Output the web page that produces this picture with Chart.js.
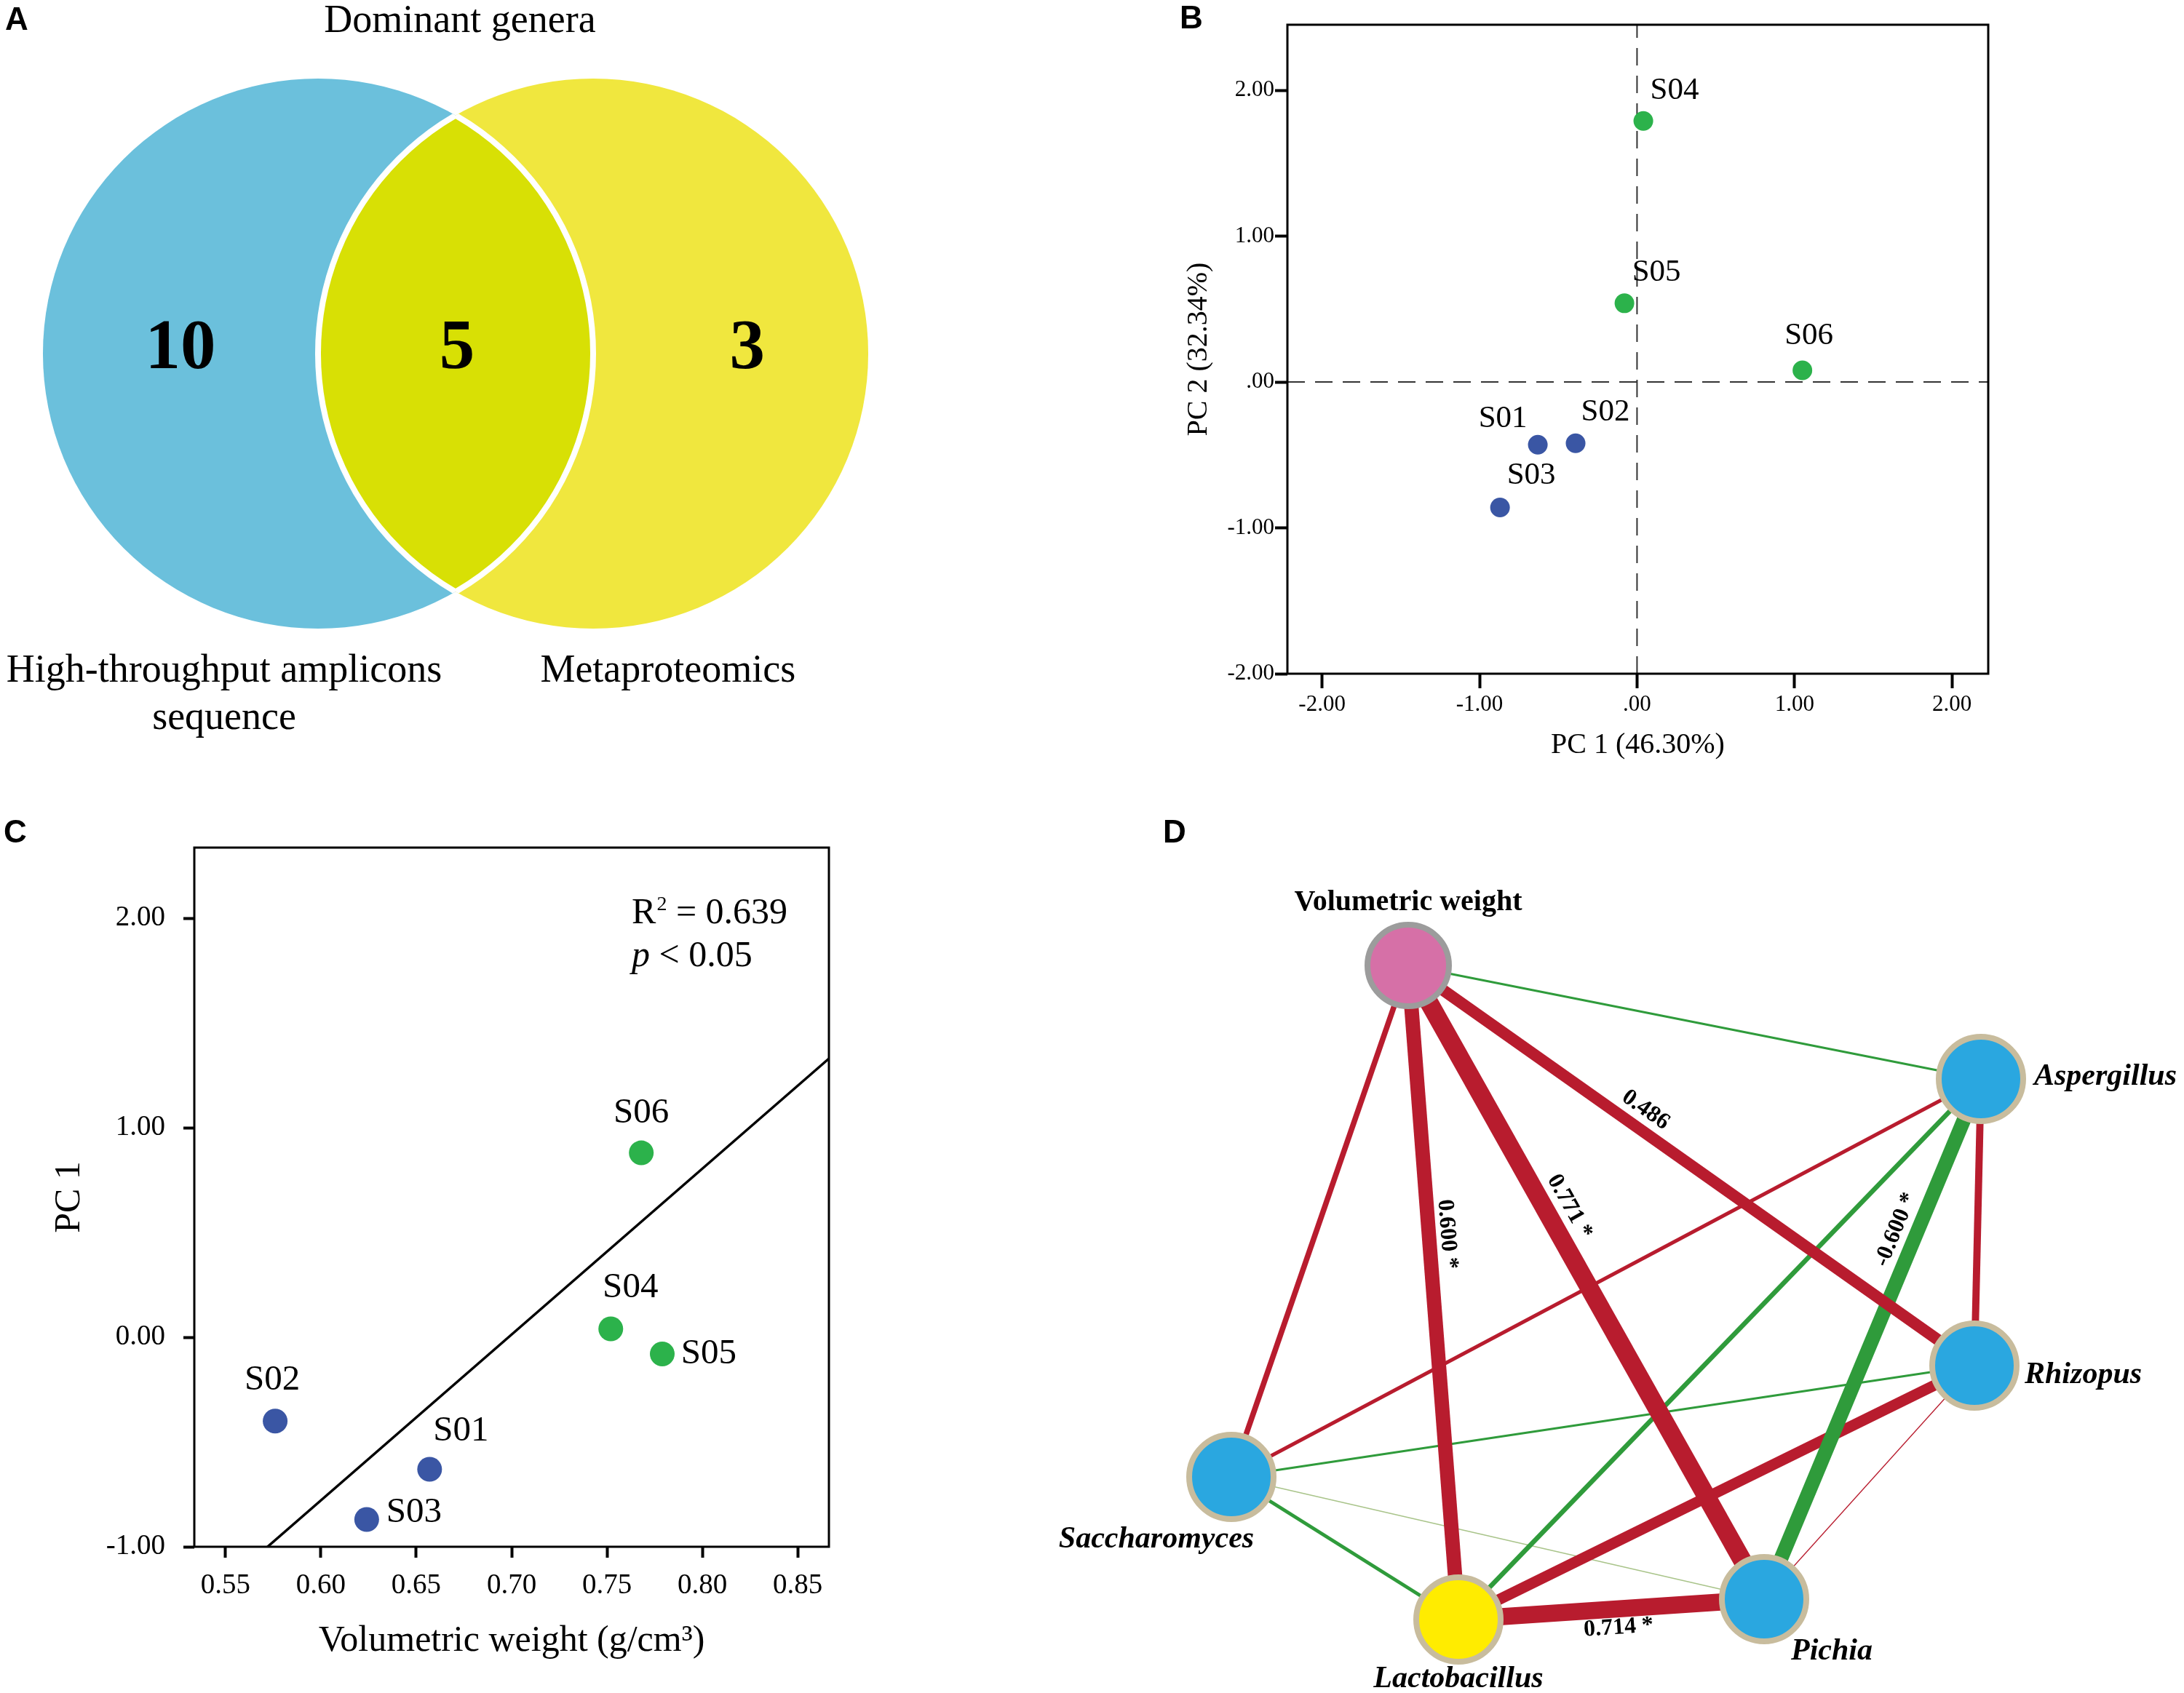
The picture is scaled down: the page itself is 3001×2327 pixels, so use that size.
<!DOCTYPE html>
<html>
<head>
<meta charset="utf-8">
<script src="https://cdn.jsdelivr.net/npm/chart.js@4.4.1/dist/chart.umd.min.js"></script>
<style>
  html, body { margin: 0; padding: 0; background: #fff; }
  body { width: 3001px; height: 2327px; position: relative; overflow: hidden; }
  canvas { position: absolute; }
  .tag { position: absolute; z-index: 5; font: bold 44px 'Liberation Sans', Arial, sans-serif; line-height: 1; color: #000; }
</style>
</head>
<body>
<canvas id="venn" style="left:0;top:0" width="1300" height="1060"></canvas>
<canvas id="pca" style="left:1550px;top:0" width="1451" height="1100"></canvas>
<canvas id="reg" style="left:0;top:1100px" width="1440" height="1227"></canvas>
<canvas id="net" style="left:1440px;top:1100px" width="1561" height="1227"></canvas>
<div class="tag" style="left:7px;top:4px">A</div>
<div class="tag" style="left:1621px;top:2px">B</div>
<div class="tag" style="left:5px;top:1121px">C</div>
<div class="tag" style="left:1598px;top:1121px">D</div>
<script>
// ---- A: Venn of dominant genera ----
const vennTitle = 'Dominant genera';
const vennSetA = ['High-throughput amplicons', 'sequence'];
const vennSetB = ['Metaproteomics'];
const vennCounts = [10, 5, 3]; // amplicons only, both, metaproteomics only

// ---- B: PCA ----
const samples = ['S01', 'S02', 'S03', 'S04', 'S05', 'S06'];
const sampleGroup = [0, 0, 0, 1, 1, 1];
const pc1 = [-0.63, -0.39, -0.87, 0.04, -0.08, 1.05];
const pc2 = [-0.43, -0.42, -0.86, 1.79, 0.54, 0.08];
const pcaTicks = [-2, -1, 0, 1, 2];

// ---- C: PC1 vs volumetric weight ----
const volWeight = [0.657, 0.576, 0.624, 0.752, 0.779, 0.768];
const pc1Score = [-0.63, -0.40, -0.87, 0.04, -0.08, 0.88];
const fitX = [0.572, 0.8664];
const fitY = [-1.00, 1.33];
const regR2 = '0.639';
const regP = '0.05';
const regTicksX = [0.55, 0.60, 0.65, 0.70, 0.75, 0.80, 0.85];
const regTicksY = [-1, 0, 1, 2];

// ---- D: correlation network ----
const netNodes = ['Volumetric weight', 'Aspergillus', 'Rhizopus', 'Saccharomyces', 'Lactobacillus', 'Pichia'];
const nodeKind = ['trait', 'fungus', 'fungus', 'fungus', 'bacterium', 'fungus'];
const edgeFrom = [0, 0, 0, 0, 0, 1, 1, 5, 1, 2, 2, 2, 3, 3, 4];
const edgeTo   = [1, 3, 4, 5, 2, 3, 4, 1, 2, 3, 4, 5, 4, 5, 5];
const edgeR    = [-0.09, 0.23, 0.600, 0.771, 0.486, 0.15, -0.20, -0.600, 0.30, -0.09, 0.45, 0.04, -0.15, -0.045, 0.714];
const edgeText = ['', '', '0.600 *', '0.771 *', '0.486', '', '', '-0.600 *', '', '', '', '', '', '', '0.714 *'];

// layout (not data)
const SERIF = "'Liberation Serif', 'Times New Roman', serif";
const groupColors = ['#3a56a4', '#2cb24b'];
const pcaLabelOffset = [[-48, -36], [41, -43], [43, -44], [43, -42], [44, -42], [9, -47]];
const regLabelOffset = [[43, -52], [-4, -56], [65, -9], [27, -56], [64, 0], [0, -54]];
const netLayout = [
  {x: 4.95, y: 10.00}, {x: 12.82, y: 8.44}, {x: 12.73, y: 4.50},
  {x: 2.52, y: 2.97}, {x: 5.64, y: 1.01}, {x: 9.84, y: 1.29}
];
const nodeLabelPlace = [[0, -86, 'center'], [73, -3, 'left'], [69, 13, 'left'], [-103, 86, 'center'], [0, 82, 'center'], [93, 72, 'center']];
const edgeTextPlace = {2: [0.413, 25], 3: [0.398, 31], 4: [0.40, 26], 7: [0.695, 28], 14: [0.52, -26]};
const kindStyle = {
  trait: {fill: '#d670a7', ring: '#9c9c9c', r: 56},
  fungus: {fill: '#2aa7e0', ring: '#c8bc9d', r: 58},
  bacterium: {fill: '#ffec00', ring: '#c8bc9d', r: 58}
};

Chart.defaults.font.family = SERIF;
Chart.defaults.color = '#000';

const base = {
  responsive: false, animation: false, devicePixelRatio: 1, events: []
};
const noChrome = {legend: {display: false}, tooltip: {enabled: false}};

const framePlugin = {
  id: 'frame',
  afterDraw(chart, args, opts) {
    const {ctx, chartArea: a} = chart;
    ctx.save();
    ctx.strokeStyle = '#000';
    ctx.lineWidth = opts.width || 3;
    ctx.strokeRect(a.left, a.top, a.right - a.left, a.bottom - a.top);
    ctx.restore();
  }
};

const pointLabels = {
  id: 'pointLabels',
  afterDatasetsDraw(chart, args, opts) {
    const {ctx} = chart;
    ctx.save();
    ctx.font = opts.font;
    ctx.fillStyle = '#000';
    ctx.textAlign = 'center';
    ctx.textBaseline = 'middle';
    chart.data.datasets.forEach((ds, di) => {
      if (!ds.pointText) return;
      chart.getDatasetMeta(di).data.forEach((el, i) => {
        const off = ds.textOffset[i];
        ctx.fillText(ds.pointText[i], el.x + off[0], el.y + off[1]);
      });
    });
    ctx.restore();
  }
};

function axis(o) {
  return {
    type: 'linear', min: o.min, max: o.max,
    afterBuildTicks: s => { s.ticks = o.ticks.map(v => ({value: v})); },
    afterFit: s => { if (o.w) s.width = o.w; if (o.h) s.height = o.h; },
    border: {display: false},
    grid: {drawOnChartArea: false, drawTicks: true, tickLength: o.tickLen, tickWidth: 4, tickColor: '#000'},
    ticks: {padding: o.pad, color: '#000', autoSkip: false, maxRotation: 0, font: {family: SERIF, size: o.font}, callback: o.fmt},
    title: {display: true, text: o.title, color: '#000', font: {family: SERIF, size: o.titleSize}, padding: o.titlePad}
  };
}

// ---- A ----
const vennShift = 0.5;
const unitPx = chart => chart.scales.x.getPixelForValue(1) - chart.scales.x.getPixelForValue(0);
const vennPlugin = {
  id: 'venn',
  afterDatasetsDraw(chart) {
    const {ctx} = chart;
    const sx = chart.scales.x, sy = chart.scales.y;
    const r = unitPx(chart);
    const lx = sx.getPixelForValue(-vennShift), rx = sx.getPixelForValue(vennShift), cy = sy.getPixelForValue(0);
    const circle = x => { ctx.beginPath(); ctx.arc(x, cy, r, 0, Math.PI * 2); };
    ctx.save();
    circle(lx); ctx.clip();
    circle(rx); ctx.fillStyle = '#d8e005'; ctx.fill();
    ctx.lineWidth = 8; ctx.strokeStyle = '#fff'; ctx.stroke();
    ctx.restore();
    ctx.save();
    circle(rx); ctx.clip();
    circle(lx); ctx.lineWidth = 8; ctx.strokeStyle = '#fff'; ctx.stroke();
    ctx.restore();

    const P = (x, y) => [sx.getPixelForValue(x), sy.getPixelForValue(y)];
    ctx.save();
    ctx.fillStyle = '#000';
    ctx.textAlign = 'center';
    ctx.textBaseline = 'alphabetic';
    ctx.font = `bold 97px ${SERIF}`;
    [-1.0, 0.005, 1.06].forEach((x, i) => {
      const [px, py] = P(x, 0);
      ctx.fillText(String(vennCounts[i]), px, py + 20);
    });
    ctx.font = `54px ${SERIF}`;
    let [tx] = P(0.016, 0);
    ctx.fillText(vennTitle, tx, 44);
    [tx] = P(-0.841, 0);
    vennSetA.forEach((line, i) => ctx.fillText(line, tx, 937 + i * 65));
    [tx] = P(0.772, 0);
    vennSetB.forEach((line, i) => ctx.fillText(line, tx, 937 + i * 65));
    ctx.restore();
  }
};

new Chart(document.getElementById('venn'), {
  type: 'scatter',
  data: {
    datasets: [
      {data: [{x: -vennShift, y: 0}], pointRadius: c => unitPx(c.chart), pointBackgroundColor: '#6bc0dc', pointBorderWidth: 0},
      {data: [{x: vennShift, y: 0}], pointRadius: c => unitPx(c.chart), pointBackgroundColor: '#f0e73e', pointBorderWidth: 0}
    ]
  },
  options: {
    ...base,
    layout: {padding: 0, autoPadding: false},
    plugins: noChrome,
    scales: {
      x: {type: 'linear', display: false, min: -1.656, max: 1.783},
      y: {type: 'linear', display: false, min: -1.519, max: 1.286}
    }
  },
  plugins: [vennPlugin]
});

// ---- B ----
const pcaX = [-2.22, 2.23], pcaY = [-2.0, 2.45];
const fmtPca = v => (v === 0 ? '.00' : v.toFixed(2));
new Chart(document.getElementById('pca'), {
  type: 'scatter',
  data: {
    datasets: [
      {
        data: samples.map((s, i) => ({x: pc1[i], y: pc2[i]})),
        pointRadius: 13.5, pointBorderWidth: 0,
        pointBackgroundColor: sampleGroup.map(g => groupColors[g]),
        pointText: samples, textOffset: pcaLabelOffset, order: 0
      },
      {data: [{x: 0, y: pcaY[0]}, {x: 0, y: pcaY[1]}], showLine: true, pointRadius: 0, borderColor: '#333', borderWidth: 2, borderDash: [24, 14], order: 1},
      {data: [{x: pcaX[0], y: 0}, {x: pcaX[1], y: 0}], showLine: true, pointRadius: 0, borderColor: '#333', borderWidth: 2, borderDash: [24, 14], order: 1}
    ]
  },
  options: {
    ...base,
    layout: {padding: {top: 34, right: 269, left: 0, bottom: 0}, autoPadding: false},
    plugins: {...noChrome, frame: {width: 3}, pointLabels: {font: `43px ${SERIF}`}},
    scales: {
      x: axis({min: pcaX[0], max: pcaX[1], ticks: pcaTicks, h: 174, tickLen: 20, pad: 4, font: 31, fmt: fmtPca,
               title: 'PC 1 (46.30%)', titleSize: 40, titlePad: {top: 0, bottom: 52}}),
      y: axis({min: pcaY[0], max: pcaY[1], ticks: pcaTicks, w: 219, tickLen: 17, pad: 1, font: 31, fmt: fmtPca,
               title: 'PC 2 (32.34%)', titleSize: 40, titlePad: {top: 73, bottom: 0}})
    }
  },
  plugins: [framePlugin, pointLabels]
});

// ---- C ----
const regText = {
  id: 'regText',
  afterDatasetsDraw(chart) {
    const {ctx} = chart;
    const x = chart.scales.x.getPixelForValue(0.763);
    const y1 = chart.scales.y.getPixelForValue(2.02);
    const y2 = chart.scales.y.getPixelForValue(1.815);
    ctx.save();
    ctx.fillStyle = '#000';
    ctx.textAlign = 'left';
    ctx.textBaseline = 'middle';
    ctx.font = `50px ${SERIF}`;
    ctx.fillText('R', x, y1);
    let w = ctx.measureText('R').width;
    ctx.font = `28px ${SERIF}`;
    ctx.fillText('2', x + w + 1, y1 - 13);
    w += ctx.measureText('2').width + 1;
    ctx.font = `50px ${SERIF}`;
    ctx.fillText(' = ' + regR2, x + w, y1);
    ctx.font = `italic 50px ${SERIF}`;
    ctx.fillText('p', x, y2);
    const wp = ctx.measureText('p').width;
    ctx.font = `50px ${SERIF}`;
    ctx.fillText(' < ' + regP, x + wp, y2);
    ctx.restore();
  }
};

new Chart(document.getElementById('reg'), {
  type: 'scatter',
  data: {
    datasets: [
      {
        data: samples.map((s, i) => ({x: volWeight[i], y: pc1Score[i]})),
        pointRadius: 17, pointBorderWidth: 0,
        pointBackgroundColor: sampleGroup.map(g => groupColors[g]),
        pointText: samples, textOffset: regLabelOffset, order: 0
      },
      {data: fitX.map((x, i) => ({x, y: fitY[i]})), showLine: true, pointRadius: 0, borderColor: '#000', borderWidth: 3.5, order: 1}
    ]
  },
  options: {
    ...base,
    layout: {padding: {top: 65, right: 301, left: 0, bottom: 0}, autoPadding: false},
    plugins: {...noChrome, frame: {width: 3}, pointLabels: {font: `49px ${SERIF}`}},
    scales: {
      x: axis({min: 0.5336, max: 0.8664, ticks: regTicksX, h: 201, tickLen: 15, pad: 15, font: 39, fmt: v => v.toFixed(2),
               title: 'Volumetric weight (g/cm\u00B3)', titleSize: 50, titlePad: {top: 0, bottom: 41}}),
      y: axis({min: -1, max: 2.337, ticks: regTicksY, w: 267, tickLen: 15, pad: 25, font: 39, fmt: v => v.toFixed(2),
               title: 'PC 1', titleSize: 50, titlePad: {top: 66, bottom: 0}})
    }
  },
  plugins: [framePlugin, pointLabels, regText]
});

// ---- D ----
const netText = {
  id: 'netText',
  afterDatasetsDraw(chart) {
    const {ctx} = chart;
    const sx = chart.scales.x, sy = chart.scales.y;
    const px = i => [sx.getPixelForValue(netLayout[i].x), sy.getPixelForValue(netLayout[i].y)];
    ctx.save();
    ctx.fillStyle = '#000';
    ctx.textAlign = 'center';
    ctx.textBaseline = 'middle';
    ctx.font = `bold 32px ${SERIF}`;
    edgeText.forEach((t, k) => {
      if (!t) return;
      const [x1, y1] = px(edgeFrom[k]);
      const [x2, y2] = px(edgeTo[k]);
      const [f, off] = edgeTextPlace[k];
      ctx.save();
      ctx.translate(x1 + (x2 - x1) * f, y1 + (y2 - y1) * f);
      ctx.rotate(Math.atan2(y2 - y1, x2 - x1));
      ctx.fillText(t, 0, -off);
      ctx.restore();
    });
    netNodes.forEach((name, i) => {
      const [x, y] = px(i);
      const [dx, dy, align] = nodeLabelPlace[i];
      ctx.font = nodeKind[i] === 'trait' ? `bold 40px ${SERIF}` : `italic bold 42px ${SERIF}`;
      ctx.textAlign = align;
      ctx.fillText(name, x + dx, y + dy);
    });
    ctx.restore();
  }
};

const edgeSets = edgeR.map((r, k) => ({
  data: [netLayout[edgeFrom[k]], netLayout[edgeTo[k]]],
  showLine: true, pointRadius: 0,
  borderColor: r >= 0 ? '#b81c2e' : (Math.abs(r) < 0.05 ? '#a9c48a' : '#2f9b3b'),
  borderWidth: Math.max(1.2, 33 * Math.abs(r)),
  order: 1
}));

new Chart(document.getElementById('net'), {
  type: 'scatter',
  data: {
    datasets: [
      {
        data: netLayout,
        pointRadius: nodeKind.map(k => kindStyle[k].r),
        pointBackgroundColor: nodeKind.map(k => kindStyle[k].fill),
        pointBorderColor: nodeKind.map(k => kindStyle[k].ring),
        pointBorderWidth: 8,
        order: 0
      },
      ...edgeSets
    ]
  },
  options: {
    ...base,
    layout: {padding: 0, autoPadding: false},
    plugins: noChrome,
    scales: {
      x: {type: 'linear', display: false, min: 0, max: 15.61},
      y: {type: 'linear', display: false, min: 0, max: 12.27}
    }
  },
  plugins: [netText]
});
</script>
</body>
</html>
